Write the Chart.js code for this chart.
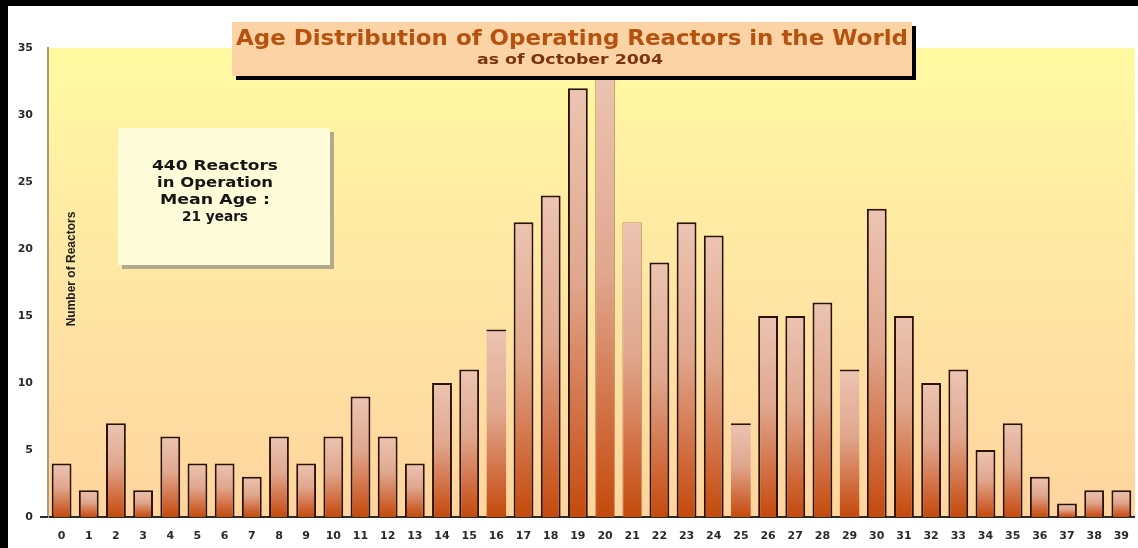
<!DOCTYPE html>
<html>
<head>
<meta charset="utf-8">
<title>Age Distribution of Operating Reactors</title>
<script src="https://cdn.jsdelivr.net/npm/chart.js@4.4.1/dist/chart.umd.min.js"></script>
<style>
    html, body { margin: 0; padding: 0; background: #000; overflow: hidden; }
    .frame { position: absolute; left: 8px; top: 6px; width: 1134px; height: 542px; background: #fff; }
    canvas { display: block; }
</style>
</head>
<body>
<div class="frame"><canvas id="chart-ages" width="1134" height="542"></canvas></div>
<script>
/* ---- data ---- */
const ages = ['0','1','2','3','4','5','6','7','8','9','10','11','12','13','14','15','16','17','18','19',
              '20','21','22','23','24','25','26','27','28','29','30','31','32','33','34','35','36','37','38','39'];
const reactors = [4, 2, 7, 2, 6, 4, 4, 3, 6, 4, 6, 9, 6, 4, 10, 11, 14, 22, 24, 32,
                  33, 22, 19, 22, 21, 7, 15, 15, 16, 11, 23, 15, 10, 11, 5, 7, 3, 1, 2, 2];
const yTicks = [0, 5, 10, 15, 20, 25, 30, 35];

const titleText = 'Age Distribution of Operating Reactors in the World';
const subtitleText = 'as of October 2004';
const noteLines = ['440 Reactors', 'in Operation', 'Mean Age :', '21 years'];
const yTitle = 'Number of Reactors';

// bars whose side edges look washed out in the picture
const softBars = [16, 25, 29];
const faintBars = [20, 21];

const FONT = '"DejaVu Sans", "Liberation Sans", sans-serif';

function barFill(c) {
    const chart = c.chart;
    if (!chart.chartArea || c.type !== 'data') return '#d88a68';
    const y = chart.scales.y;
    const top = y.getPixelForValue(c.raw);
    const base = y.getPixelForValue(0);
    const g = chart.ctx.createLinearGradient(0, top, 0, base);
    g.addColorStop(0, '#ecc4b2');
    g.addColorStop(0.45, '#e0a78e');
    g.addColorStop(0.8, '#d06a3c');
    g.addColorStop(1, '#c44a0c');
    return g;
}

// the original lettering is wider than any installed face, so stretch it
function fillStretched(ctx, text, x, y, width) {
    const w = ctx.measureText(text).width;
    ctx.save();
    ctx.translate(x, y);
    ctx.scale(width / w, 1);
    ctx.fillText(text, 0, 0);
    ctx.restore();
}

const plotBackground = {
    id: 'plotBackground',
    beforeDraw(chart) {
        const { ctx, chartArea: a } = chart;
        const g = ctx.createLinearGradient(0, a.top, 0, a.bottom);
        g.addColorStop(0, '#fffaa2');
        g.addColorStop(0.5, '#ffe6a4');
        g.addColorStop(1, '#fed49e');
        ctx.save();
        ctx.fillStyle = g;
        ctx.fillRect(a.left, a.top, a.right - a.left, a.bottom - a.top);
        ctx.restore();
    }
};

const overlays = {
    id: 'overlays',
    afterDraw(chart) {
        const { ctx, chartArea: a } = chart;
        ctx.save();

        // x axis stub to the left of the plot
        ctx.strokeStyle = '#2a2a2a';
        ctx.lineWidth = 2;
        ctx.beginPath();
        ctx.moveTo(a.left - 8, a.bottom);
        ctx.lineTo(a.left, a.bottom);
        ctx.stroke();

        // axis title, inside the plot
        ctx.save();
        ctx.translate(64, 263);
        ctx.rotate(-Math.PI / 2);
        ctx.fillStyle = '#1e1e1e';
        ctx.font = 'bold 12px "Liberation Sans", Arial, sans-serif';
        ctx.textAlign = 'center';
        ctx.textBaseline = 'middle';
        ctx.fillText(yTitle, 0, 0);
        ctx.restore();

        // note box
        ctx.fillStyle = '#b3aa8c';
        ctx.fillRect(114, 126, 212, 137);
        ctx.fillStyle = '#fdfbd8';
        ctx.fillRect(110, 122, 212, 137);
        ctx.fillStyle = '#151515';
        ctx.font = 'bold 14px ' + FONT;
        ctx.textAlign = 'center';
        ctx.textBaseline = 'middle';
        const noteWidths = [126, 116, 110, 66];
        noteLines.forEach((line, i) => fillStretched(ctx, line, 207, 160 + i * 17, noteWidths[i]));

        // title box
        ctx.fillStyle = '#000';
        ctx.fillRect(228, 20, 680, 54);
        ctx.fillStyle = '#fcd3a4';
        ctx.fillRect(224, 16, 680, 54);
        ctx.fillStyle = '#b5520f';
        ctx.font = 'bold 21px ' + FONT;
        fillStretched(ctx, titleText, 564, 34, 672);
        ctx.fillStyle = '#7a3410';
        ctx.font = 'bold 14px ' + FONT;
        fillStretched(ctx, subtitleText, 562, 54, 186);

        ctx.restore();
    }
};

new Chart(document.getElementById('chart-ages'), {
    type: 'bar',
    data: {
        labels: ages,
        datasets: [{
            label: 'Reactors',
            data: reactors,
            backgroundColor: barFill,
            borderColor: c => faintBars.includes(c.dataIndex) ? 'rgba(150,100,50,0.6)' : '#2b1206',
            borderWidth: c => {
                if (faintBars.includes(c.dataIndex)) return { top: 1, left: 1, right: 1, bottom: 0 };
                if (softBars.includes(c.dataIndex)) return { top: 2, left: 0, right: 0, bottom: 0 };
                return { top: 2, left: 2, right: 2, bottom: 0 };
            },
            borderSkipped: 'bottom',
            categoryPercentage: 1,
            barPercentage: 0.73
        }]
    },
    options: {
        responsive: false,
        animation: false,
        layout: { padding: { top: 42, right: 1, bottom: 0, left: 0 } },
        plugins: {
            legend: { display: false },
            tooltip: { enabled: false }
        },
        scales: {
            x: {
                grid: { display: false, drawTicks: false },
                border: { color: '#2a2a2a', width: 2 },
                ticks: {
                    color: '#2a2a2a',
                    font: { family: FONT, weight: 'bold', size: 11 },
                    padding: 13,
                    maxRotation: 0,
                    autoSkip: false
                },
                afterFit: s => { s.height = 31; }
            },
            y: {
                min: 0,
                max: 35,
                grid: { display: false, drawTicks: false },
                border: { color: '#a89a7c', width: 2 },
                ticks: {
                    color: '#2a2a2a',
                    font: { family: FONT, weight: 'bold', size: 11 },
                    padding: 15
                },
                afterBuildTicks: s => { s.ticks = yTicks.map(v => ({ value: v })); },
                afterFit: s => { s.width = 40; }
            }
        }
    },
    plugins: [plotBackground, overlays]
});
</script>
</body>
</html>
